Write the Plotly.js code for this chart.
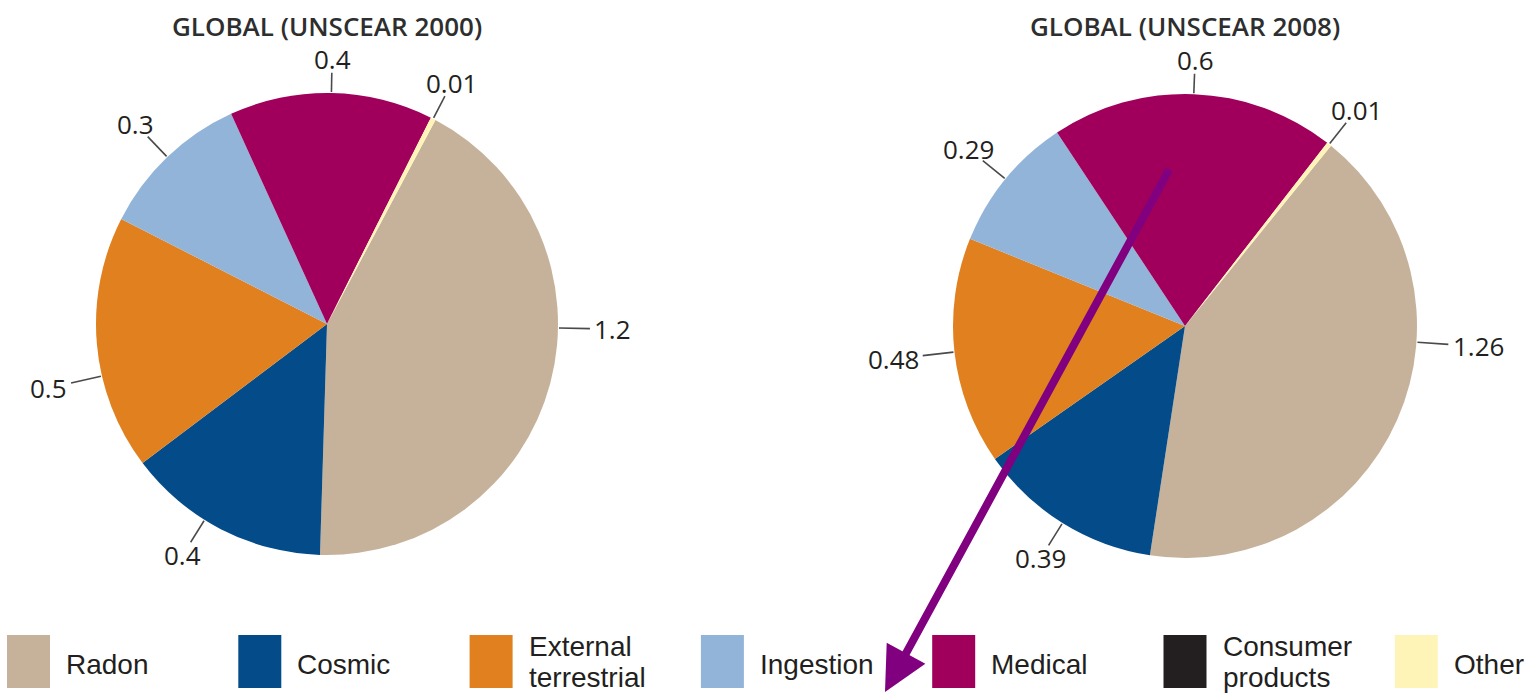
<!DOCTYPE html>
<html>
<head>
<meta charset="utf-8">
<script src="https://cdn.plot.ly/plotly-3.0.1.min.js"></script>
<style>
  html, body { margin: 0; padding: 0; background: #ffffff; }
  #chart { width: 1532px; height: 700px; }
</style>
</head>
<body>
<div id="chart"></div>
<script>
// Average annual dose by source (mSv), two UNSCEAR global assessments
const categories = ['Radon', 'Cosmic', 'External terrestrial', 'Ingestion', 'Medical', 'Consumer products', 'Other'];
const legendText = [['Radon'], ['Cosmic'], ['External', 'terrestrial'], ['Ingestion'], ['Medical'], ['Consumer', 'products'], ['Other']];
const sliceColors = ['#C6B29A', '#044B89', '#E0801F', '#93B4D9', '#A0005B', '#231F20', '#FFF4B8'];
const dose2000 = [1.2, 0.4, 0.5, 0.3, 0.4, 0, 0.01];
const dose2008 = [1.26, 0.39, 0.48, 0.29, 0.6, 0, 0.01];
const panelTitles = ['GLOBAL (UNSCEAR 2000)', 'GLOBAL (UNSCEAR 2008)'];

// ---- page geometry (pixels) ----
const W = 1532, H = 700;
const px = x => x / W;
const py = y => 1 - y / H;

// labelAngle: hand-set leader positions (degrees clockwise from 12 o'clock);
// any slice not listed gets its label at the slice's middle angle.
const panels = [
  { values: dose2000, title: panelTitles[0], cx: 327, cy: 324, r: 231, rotation: 28,
    labelAngle: { 'Radon': 91, 'Cosmic': 212, 'External terrestrial': 257 } },
  { values: dose2008, title: panelTitles[1], cx: 1185, cy: 326, r: 232, rotation: 39,
    labelAngle: { 'Radon': 94 } }
];

const textColor = '#231F20';
const labelFamily = '"Open Sans", "Liberation Sans", sans-serif';
const labelSize = 26;
const labelFont = { family: labelFamily, size: labelSize, color: textColor };
const titleFont = { family: labelFamily, size: 26, color: '#2E2E2E', weight: 600 };
const legendFont = { family: '"Liberation Sans", Arial, sans-serif', size: 28, color: textColor };

// text width helper for placing labels just beyond their leader lines
const measureCtx = document.createElement('canvas').getContext('2d');
measureCtx.font = labelSize + 'px ' + labelFamily;
const textWidth = t => measureCtx.measureText(t).width;
const digitHeight = 0.72 * labelSize;

const traces = [];
const shapes = [];
const annotations = [];
const leaderGap = 4;
// leaders are short above/below the pie and longer at the sides
const leaderLength = ux => 20 + 12 * Math.abs(ux);

panels.forEach(p => {
  traces.push({
    type: 'pie',
    labels: categories,
    values: p.values,
    marker: { colors: sliceColors, line: { width: 0 } },
    sort: false,
    direction: 'clockwise',
    rotation: p.rotation,
    textinfo: 'none',
    hoverinfo: 'label+value',
    showlegend: false,
    domain: { x: [px(p.cx - p.r), px(p.cx + p.r)], y: [py(p.cy + p.r), py(p.cy - p.r)] }
  });

  // panel heading
  annotations.push({
    xref: 'paper', yref: 'paper', x: px(p.cx), y: py(25.5),
    text: p.title, showarrow: false, xanchor: 'center', yanchor: 'middle',
    font: titleFont, borderpad: 0
  });

  // value labels with short leader lines
  const total = p.values.reduce((a, b) => a + b, 0);
  let cum = 0;
  p.values.forEach((v, i) => {
    const mid = p.rotation + 360 * (cum + v / 2) / total;
    cum += v;
    if (v <= 0) return;
    const set = p.labelAngle[categories[i]];
    const deg = (set !== undefined) ? set : mid;
    const a = deg * Math.PI / 180;
    const ux = Math.sin(a), uy = -Math.cos(a);
    const r0 = p.r + 1, r1 = p.r + leaderLength(ux);
    const ex = p.cx + r1 * ux, ey = p.cy + r1 * uy;
    shapes.push({
      type: 'line', xref: 'paper', yref: 'paper',
      x0: px(p.cx + r0 * ux), y0: py(p.cy + r0 * uy),
      x1: px(ex), y1: py(ey),
      line: { color: '#4A4A4A', width: 1.6 }
    });
    const txt = String(v);
    const hw = textWidth(txt) / 2, hh = digitHeight / 2;
    const reach = Math.min(Math.abs(ux) > 1e-6 ? hw / Math.abs(ux) : Infinity,
                           Math.abs(uy) > 1e-6 ? hh / Math.abs(uy) : Infinity) + leaderGap;
    annotations.push({
      xref: 'paper', yref: 'paper',
      x: px(ex + reach * ux), y: py(ey + reach * uy),
      text: txt, showarrow: false, xanchor: 'center', yanchor: 'middle',
      font: labelFont, borderpad: 0
    });
  });
});

// ---- legend row along the bottom ----
const legendStep = 231.3, legendX0 = 7, swatchW = 43, swatchTop = 635, swatchBottom = 688;
categories.forEach((name, i) => {
  const x0 = legendX0 + i * legendStep;
  shapes.push({
    type: 'rect', xref: 'paper', yref: 'paper',
    x0: px(x0), x1: px(x0 + swatchW), y0: py(swatchBottom), y1: py(swatchTop),
    fillcolor: sliceColors[i], line: { width: 0 }
  });
  const lines = legendText[i];
  const rows = lines.length === 1 ? [664] : [646, 677.5];
  lines.forEach((t, k) => {
    annotations.push({
      xref: 'paper', yref: 'paper', x: px(x0 + swatchW + 15), y: py(rows[k]),
      text: t, showarrow: false, xanchor: 'left', yanchor: 'middle',
      font: legendFont, borderpad: 0
    });
  });
});

// ---- purple pointer arrow ----
const arrowTip = [885, 692], arrowTail = [1170, 168];
annotations.push({
  xref: 'paper', yref: 'paper', x: px(arrowTip[0]), y: py(arrowTip[1]),
  axref: 'pixel', ayref: 'pixel',
  ax: arrowTail[0] - arrowTip[0], ay: arrowTail[1] - arrowTip[1],
  text: '', showarrow: true, arrowhead: 2, arrowsize: 1.1, arrowwidth: 8,
  arrowcolor: '#800080', standoff: 0
});

const layout = {
  width: W, height: H,
  margin: { l: 0, r: 0, t: 0, b: 0, pad: 0 },
  paper_bgcolor: '#ffffff', plot_bgcolor: '#ffffff',
  showlegend: false,
  shapes: shapes,
  annotations: annotations
};

Plotly.newPlot('chart', traces, layout, { staticPlot: true, displayModeBar: false });
</script>
</body>
</html>
